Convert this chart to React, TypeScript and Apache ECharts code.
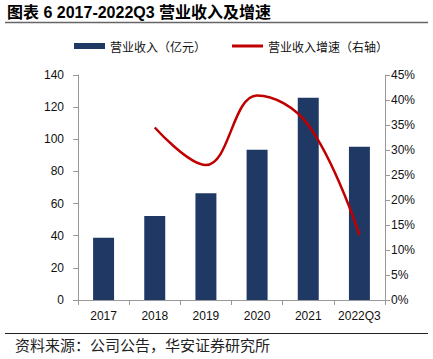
import React, { useEffect, useRef } from "react";
import * as echarts from "echarts";

const categories = ["2017", "2018", "2019", "2020", "2021", "2022Q3"];
const revenue = [38.8, 52.3, 66.4, 93.5, 125.9, 95.4];
const growth = [null, 34.5, 27.0, 40.9, 35.0, 13.0];
const leftTicks = { min: 0, max: 140, interval: 20 };
const rightTicks = { min: 0, max: 45, interval: 5 };

const TITLE = "图表 6 2017-2022Q3 营业收入及增速";
const SOURCE = "资料来源：公司公告，华安证券研究所";

export default function App() {
  const ref = useRef<HTMLDivElement>(null);
  useEffect(() => {
    const chart = echarts.init(ref.current!, null, { renderer: "svg" });
    const axisFont = { fontFamily: "Liberation Sans, Arial, sans-serif", fontSize: 12, color: "#111" };
    chart.setOption({
      animation: false,
      backgroundColor: "#fff",
      graphic: [
        {
          type: "text",
          left: 7,
          top: 4,
          style: { text: TITLE, fontSize: 16, fontWeight: "bold", fill: "#000", fontFamily: "Liberation Sans, Noto Sans CJK SC, sans-serif" },
        },
        { type: "line", shape: { x1: 5, y1: 22.5, x2: 428, y2: 22.5 }, style: { stroke: "#666", lineWidth: 1.5 } },
        { type: "line", shape: { x1: 5, y1: 333.5, x2: 428, y2: 333.5 }, style: { stroke: "#222", lineWidth: 1 } },
        {
          type: "text",
          left: 15,
          top: 337,
          style: { text: SOURCE, fontSize: 15, fill: "#222", fontFamily: "Noto Sans CJK SC, sans-serif" },
        },
      ],
      legend: {
        left: 69,
        top: 35,
        itemGap: 26,
        itemWidth: 31,
        itemHeight: 6,
        textStyle: { fontSize: 12, color: "#111", fontFamily: "Noto Sans CJK SC, sans-serif" },
        data: [
          { name: "营业收入（亿元）", icon: "rect" },
          { name: "营业收入增速（右轴）", icon: "path://M0 0H31V3H0Z", itemStyle: { color: "#c00000" } },
        ],
      },
      grid: { left: 78, right: 48, top: 75, bottom: 59 },
      xAxis: {
        type: "category",
        data: categories,
        boundaryGap: true,
        axisLine: { lineStyle: { color: "#999" } },
        axisTick: { show: true, alignWithLabel: false, length: 5, lineStyle: { color: "#999" } },
        axisLabel: { ...axisFont, margin: 10, interval: 0 },
      },
      yAxis: [
        {
          type: "value",
          ...leftTicks,
          axisLine: { show: true, lineStyle: { color: "#999" } },
          axisTick: { show: true, length: 5, lineStyle: { color: "#999" } },
          splitLine: { show: false },
          axisLabel: { ...axisFont, margin: 14 },
        },
        {
          type: "value",
          ...rightTicks,
          position: "right",
          axisLine: { show: true, lineStyle: { color: "#999" } },
          axisTick: { show: true, length: 5, lineStyle: { color: "#999" } },
          splitLine: { show: false },
          axisLabel: { ...axisFont, margin: 6, formatter: "{value}%" },
        },
      ],
      series: [
        {
          name: "营业收入（亿元）",
          type: "bar",
          data: revenue,
          barWidth: "41%",
          itemStyle: { color: "#203864" },
        },
        {
          name: "营业收入增速（右轴）",
          type: "line",
          yAxisIndex: 1,
          data: growth,
          smooth: 0.4,
          symbol: "none",
          lineStyle: { color: "#c00000", width: 2.5 },
          itemStyle: { color: "#c00000" },
        },
      ],
    });
    return () => chart.dispose();
  }, []);
  return <div ref={ref} style={{ width: 433, height: 359, position: "absolute", left: 0, top: 0 }} />;
}
